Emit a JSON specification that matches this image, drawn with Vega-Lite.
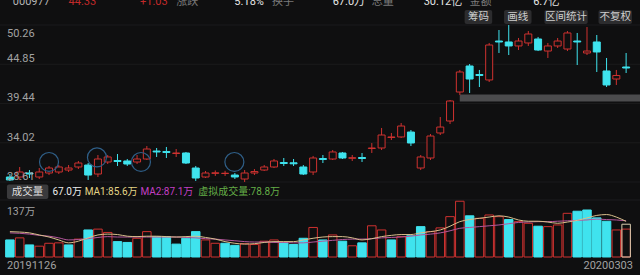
{
  "$schema": "https://vega.github.io/schema/vega-lite/v6.json",
  "width": 640,
  "height": 275,
  "padding": 0,
  "autosize": {"type": "none"},
  "background": "#0f0f10",
  "config": {"view": {"stroke": null}, "font": "Roboto, Noto Sans CJK SC"},
  "datasets": {
    "k": [
      {"i":0,"d":"20191126","o":29.30,"h":29.71,"l":28.75,"c":28.89,"v":41,"vd":"down","m1":61,"m2":58},
      {"i":1,"d":"20191127","o":29.30,"h":30.68,"l":28.89,"c":29.99,"v":46,"vd":"up","m1":60,"m2":57},
      {"i":2,"d":"20191128","o":29.85,"h":30.26,"l":29.16,"c":29.71,"v":29,"vd":"down","m1":58,"m2":55},
      {"i":3,"d":"20191129","o":29.30,"h":30.54,"l":29.02,"c":29.99,"v":26,"vd":"up","m1":53,"m2":52},
      {"i":4,"d":"20191202","o":29.85,"h":30.82,"l":29.57,"c":30.54,"v":33,"vd":"up","m1":48,"m2":50},
      {"i":5,"d":"20191203","o":29.99,"h":30.95,"l":29.71,"c":30.68,"v":34,"vd":"up","m1":41,"m2":46},
      {"i":6,"d":"20191204","o":30.26,"h":30.95,"l":29.99,"c":30.54,"v":29,"vd":"down","m1":34,"m2":41},
      {"i":7,"d":"20191205","o":30.68,"h":31.51,"l":30.40,"c":31.23,"v":43,"vd":"up","m1":38,"m2":42},
      {"i":8,"d":"20191206","o":30.95,"h":31.23,"l":28.89,"c":29.57,"v":65,"vd":"down","m1":46,"m2":44},
      {"i":9,"d":"20191209","o":29.71,"h":32.33,"l":29.30,"c":31.78,"v":67,"vd":"up","m1":53,"m2":47},
      {"i":10,"d":"20191210","o":31.37,"h":32.33,"l":31.09,"c":32.06,"v":59,"vd":"up","m1":55,"m2":49},
      {"i":11,"d":"20191211","o":31.57,"h":32.47,"l":30.82,"c":31.44,"v":37,"vd":"down","m1":54,"m2":48},
      {"i":12,"d":"20191212","o":31.51,"h":31.78,"l":30.82,"c":31.09,"v":35,"vd":"down","m1":50,"m2":48},
      {"i":13,"d":"20191213","o":31.37,"h":32.33,"l":31.09,"c":31.78,"v":45,"vd":"up","m1":49,"m2":48},
      {"i":14,"d":"20191216","o":31.78,"h":33.57,"l":31.64,"c":33.16,"v":61,"vd":"up","m1":50,"m2":48},
      {"i":15,"d":"20191217","o":32.88,"h":33.30,"l":32.06,"c":32.75,"v":49,"vd":"down","m1":50,"m2":48},
      {"i":16,"d":"20191218","o":32.82,"h":33.44,"l":31.92,"c":32.68,"v":49,"vd":"down","m1":49,"m2":48},
      {"i":17,"d":"20191219","o":32.54,"h":33.16,"l":32.06,"c":32.61,"v":31,"vd":"down","m1":48,"m2":48},
      {"i":18,"d":"20191220","o":32.61,"h":32.75,"l":31.09,"c":31.23,"v":45,"vd":"down","m1":49,"m2":47},
      {"i":19,"d":"20191223","o":30.54,"h":30.82,"l":28.75,"c":29.16,"v":61,"vd":"down","m1":50,"m2":46},
      {"i":20,"d":"20191224","o":29.30,"h":30.13,"l":29.16,"c":29.85,"v":41,"vd":"up","m1":47,"m2":44},
      {"i":21,"d":"20191225","o":29.80,"h":30.20,"l":29.45,"c":29.88,"v":33,"vd":"up","m1":43,"m2":43},
      {"i":22,"d":"20191226","o":29.78,"h":30.15,"l":29.45,"c":29.82,"v":33,"vd":"down","m1":37,"m2":41},
      {"i":23,"d":"20191227","o":29.57,"h":29.85,"l":29.02,"c":29.30,"v":28,"vd":"down","m1":33,"m2":39},
      {"i":24,"d":"20191230","o":29.02,"h":30.26,"l":28.61,"c":29.85,"v":32,"vd":"up","m1":31,"m2":37},
      {"i":25,"d":"20191231","o":29.85,"h":30.40,"l":29.57,"c":30.05,"v":30,"vd":"up","m1":32,"m2":36},
      {"i":26,"d":"20200102","o":30.26,"h":30.95,"l":30.13,"c":30.68,"v":38,"vd":"up","m1":35,"m2":36},
      {"i":27,"d":"20200103","o":30.68,"h":31.78,"l":30.54,"c":31.51,"v":41,"vd":"up","m1":37,"m2":35},
      {"i":28,"d":"20200106","o":31.30,"h":31.92,"l":30.82,"c":31.16,"v":34,"vd":"down","m1":37,"m2":35},
      {"i":29,"d":"20200107","o":31.26,"h":31.78,"l":30.82,"c":31.12,"v":30,"vd":"down","m1":37,"m2":34},
      {"i":30,"d":"20200108","o":30.68,"h":30.95,"l":29.57,"c":29.71,"v":45,"vd":"down","m1":41,"m2":34},
      {"i":31,"d":"20200109","o":29.99,"h":32.20,"l":29.57,"c":31.92,"v":71,"vd":"up","m1":45,"m2":36},
      {"i":32,"d":"20200110","o":31.85,"h":32.33,"l":31.23,"c":31.71,"v":41,"vd":"down","m1":48,"m2":38},
      {"i":33,"d":"20200113","o":31.78,"h":33.02,"l":31.64,"c":32.75,"v":53,"vd":"up","m1":49,"m2":40},
      {"i":34,"d":"20200114","o":32.61,"h":32.75,"l":31.78,"c":31.92,"v":38,"vd":"down","m1":49,"m2":42},
      {"i":35,"d":"20200115","o":31.88,"h":32.33,"l":31.51,"c":31.96,"v":27,"vd":"up","m1":46,"m2":43},
      {"i":36,"d":"20200116","o":31.99,"h":32.61,"l":31.37,"c":31.85,"v":34,"vd":"down","m1":41,"m2":43},
      {"i":37,"d":"20200117","o":33.23,"h":33.98,"l":32.61,"c":33.30,"v":75,"vd":"up","m1":44,"m2":44},
      {"i":38,"d":"20200120","o":33.30,"h":36.06,"l":33.02,"c":35.09,"v":65,"vd":"up","m1":49,"m2":46},
      {"i":39,"d":"20200121","o":34.75,"h":35.37,"l":34.40,"c":34.82,"v":41,"vd":"down","m1":52,"m2":47},
      {"i":40,"d":"20200122","o":34.82,"h":36.75,"l":34.68,"c":36.33,"v":49,"vd":"up","m1":54,"m2":48},
      {"i":41,"d":"20200123","o":35.50,"h":35.78,"l":33.57,"c":33.99,"v":51,"vd":"down","m1":54,"m2":50},
      {"i":42,"d":"20200203","o":30.54,"h":32.33,"l":30.26,"c":32.06,"v":73,"vd":"down","m1":58,"m2":53},
      {"i":43,"d":"20200204","o":31.92,"h":35.23,"l":31.64,"c":34.95,"v":61,"vd":"up","m1":61,"m2":55},
      {"i":44,"d":"20200205","o":35.37,"h":37.57,"l":35.09,"c":36.19,"v":70,"vd":"up","m1":65,"m2":58},
      {"i":45,"d":"20200206","o":37.02,"h":39.92,"l":36.61,"c":39.78,"v":97,"vd":"up","m1":74,"m2":63},
      {"i":46,"d":"20200207","o":41.02,"h":44.06,"l":40.61,"c":43.78,"v":134,"vd":"up","m1":85,"m2":69},
      {"i":47,"d":"20200210","o":44.61,"h":44.88,"l":40.88,"c":42.81,"v":99,"vd":"down","m1":90,"m2":71},
      {"i":48,"d":"20200211","o":43.43,"h":44.06,"l":41.71,"c":43.30,"v":93,"vd":"up","m1":93,"m2":73},
      {"i":49,"d":"20200212","o":42.68,"h":47.78,"l":42.40,"c":47.50,"v":101,"vd":"up","m1":96,"m2":75},
      {"i":50,"d":"20200213","o":48.05,"h":49.57,"l":46.40,"c":47.92,"v":97,"vd":"up","m1":99,"m2":77},
      {"i":51,"d":"20200214","o":47.92,"h":50.26,"l":46.12,"c":47.37,"v":90,"vd":"down","m1":96,"m2":80},
      {"i":52,"d":"20200217","o":47.37,"h":48.47,"l":46.81,"c":48.05,"v":85,"vd":"up","m1":89,"m2":83},
      {"i":53,"d":"20200218","o":47.78,"h":49.43,"l":47.37,"c":49.02,"v":81,"vd":"up","m1":86,"m2":84},
      {"i":54,"d":"20200219","o":48.33,"h":48.61,"l":46.67,"c":46.81,"v":74,"vd":"down","m1":86,"m2":85},
      {"i":55,"d":"20200220","o":46.67,"h":47.78,"l":45.71,"c":47.37,"v":73,"vd":"up","m1":84,"m2":85},
      {"i":56,"d":"20200221","o":47.37,"h":48.47,"l":47.09,"c":48.05,"v":77,"vd":"up","m1":81,"m2":86},
      {"i":57,"d":"20200224","o":46.95,"h":49.43,"l":46.67,"c":49.16,"v":105,"vd":"up","m1":84,"m2":87},
      {"i":58,"d":"20200225","o":48.05,"h":49.16,"l":44.74,"c":47.92,"v":110,"vd":"down","m1":88,"m2":88},
      {"i":59,"d":"20200226","o":46.40,"h":49.98,"l":46.12,"c":46.67,"v":113,"vd":"down","m1":94,"m2":89},
      {"i":60,"d":"20200227","o":47.92,"h":48.88,"l":43.78,"c":46.54,"v":94,"vd":"down","m1":100,"m2":91},
      {"i":61,"d":"20200228","o":43.92,"h":45.71,"l":41.71,"c":41.99,"v":86,"vd":"down","m1":102,"m2":90},
      {"i":62,"d":"20200302","o":42.81,"h":44.06,"l":41.99,"c":43.30,"v":65,"vd":"up","m1":96,"m2":89},
      {"i":63,"d":"20200303","o":44.47,"h":46.40,"l":43.64,"c":44.33,"v":67.0,"vd":"up","m1":85.6,"m2":87.1,"vv":78.8}
    ],
    "ticks": [{"p":28.61},{"p":34.02},{"p":39.44},{"p":44.85},{"p":50.26}],
    "marks": [{"i":4.0,"p":31.37},{"i":8.9,"p":32.0},{"i":13.4,"p":31.37},{"i":22.95,"p":31.37}],
    "band": [{"a":45.99,"b":64.5,"top":40.68,"bot":39.71}],
    "buttons": [
      {"t":"筹码","a":46.49,"b":49.31,"m":47.9},
      {"t":"画线","a":50.52,"b":53.33,"m":51.93},
      {"t":"区间统计","a":54.65,"b":59.07,"m":56.86},
      {"t":"不复权","a":60.18,"b":63.6,"m":61.89}
    ],
    "header": [
      {"t":"000977","i":0.3,"k":"code"},
      {"t":"44.33","i":6.0,"k":"up"},
      {"t":"+1.03","i":13.3,"k":"up"},
      {"t":"涨跌","i":17.0,"k":"lbl"},
      {"t":"5.18%","i":22.95,"k":"val"},
      {"t":"换手","i":26.8,"k":"lbl"},
      {"t":"67.0万","i":33.0,"k":"val"},
      {"t":"总量","i":37.0,"k":"lbl"},
      {"t":"30.12亿","i":42.3,"k":"val"},
      {"t":"金额","i":47.0,"k":"lbl"},
      {"t":"6.7亿","i":53.5,"k":"val"}
    ],
    "legend": [
      {"t":"67.0万","i":4.35,"k":"vol"},
      {"t":"MA1:85.6万","i":7.65,"k":"ma1"},
      {"t":"MA2:87.1万","i":13.35,"k":"ma2"},
      {"t":"虚拟成交量:78.8万","i":19.25,"k":"virt"}
    ]
  },
  "layer": [
    {
      "layer": [
        {
          "data": {"name": "ticks"},
          "mark": {"type": "rule", "color": "#1b1b1c", "strokeWidth": 1},
          "encoding": {
            "y": {"field": "p", "type": "quantitative", "scale": {"domain": [28.61, 50.26], "range": [182, 25]}, "axis": null}
          }
        },
        {
          "data": {"name": "band"},
          "mark": {"type": "rect", "color": "#4b4b4d"},
          "encoding": {
            "x": {"field": "a", "type": "quantitative", "scale": {"domain": [-0.5, 63.5], "range": [0, 636]}, "axis": null},
            "x2": {"field": "b"},
            "y": {"field": "top", "type": "quantitative", "scale": {"domain": [28.61, 50.26], "range": [182, 25]}, "axis": null},
            "y2": {"field": "bot"}
          }
        },
        {
          "data": {"name": "k"},
          "mark": {"type": "rule", "strokeWidth": 1},
          "encoding": {
            "x": {"field": "i", "type": "quantitative", "scale": {"domain": [-0.5, 63.5], "range": [0, 636]}, "axis": null},
            "y": {"field": "l", "type": "quantitative", "scale": {"domain": [28.61, 50.26], "range": [182, 25]}, "axis": null},
            "y2": {"field": "h"},
            "color": {"condition": {"test": "datum.c >= datum.o", "value": "#cf3230"}, "value": "#3fe3ee"}
          }
        },
        {
          "data": {"name": "k"},
          "mark": {"type": "bar", "width": 7, "strokeWidth": 1},
          "encoding": {
            "x": {"field": "i", "type": "quantitative", "scale": {"domain": [-0.5, 63.5], "range": [0, 636]}, "axis": null},
            "y": {"field": "o", "type": "quantitative", "scale": {"domain": [28.61, 50.26], "range": [182, 25]}, "axis": null, "stack": null},
            "y2": {"field": "c"},
            "fill": {"condition": {"test": "datum.c >= datum.o", "value": "#0f0f10"}, "value": "#3fe3ee"},
            "stroke": {"condition": {"test": "datum.c >= datum.o", "value": "#cf3230"}, "value": "#3fe3ee"}
          }
        },
        {
          "data": {"name": "marks"},
          "mark": {"type": "point", "shape": "circle", "filled": false, "size": 360, "stroke": "#2f5f88", "strokeWidth": 1.2, "opacity": 1},
          "encoding": {
            "x": {"field": "i", "type": "quantitative", "scale": {"domain": [-0.5, 63.5], "range": [0, 636]}, "axis": null},
            "y": {"field": "p", "type": "quantitative", "scale": {"domain": [28.61, 50.26], "range": [182, 25]}, "axis": null}
          }
        },
        {
          "data": {"name": "ticks"},
          "transform": [{"filter": "datum.p < 50"}],
          "mark": {"type": "text", "align": "left", "baseline": "alphabetic", "dy": -2, "fontSize": 11, "color": "#a2a2a2"},
          "encoding": {
            "x": {"datum": -0.3, "type": "quantitative", "scale": {"domain": [-0.5, 63.5], "range": [0, 636]}, "axis": null},
            "y": {"field": "p", "type": "quantitative", "scale": {"domain": [28.61, 50.26], "range": [182, 25]}, "axis": null},
            "text": {"field": "p", "type": "quantitative", "format": ".2f"}
          }
        },
        {
          "data": {"name": "ticks"},
          "transform": [{"filter": "datum.p > 50"}],
          "mark": {"type": "text", "align": "left", "baseline": "top", "dy": 3, "fontSize": 11, "color": "#a2a2a2"},
          "encoding": {
            "x": {"datum": -0.3, "type": "quantitative", "scale": {"domain": [-0.5, 63.5], "range": [0, 636]}, "axis": null},
            "y": {"field": "p", "type": "quantitative", "scale": {"domain": [28.61, 50.26], "range": [182, 25]}, "axis": null},
            "text": {"field": "p", "type": "quantitative", "format": ".2f"}
          }
        },
        {
          "data": {"name": "buttons"},
          "mark": {"type": "rect", "color": "#2c2c2e", "cornerRadius": 2},
          "encoding": {
            "x": {"field": "a", "type": "quantitative", "scale": {"domain": [-0.5, 63.5], "range": [0, 636]}, "axis": null},
            "x2": {"field": "b"},
            "y": {"datum": 52.33, "type": "quantitative", "scale": {"domain": [28.61, 50.26], "range": [182, 25]}, "axis": null},
            "y2": {"datum": 50.40}
          }
        },
        {
          "data": {"name": "buttons"},
          "mark": {"type": "text", "align": "center", "baseline": "middle", "fontSize": 10.5, "color": "#cfcfcf", "font": "Noto Sans CJK SC"},
          "encoding": {
            "x": {"field": "m", "type": "quantitative", "scale": {"domain": [-0.5, 63.5], "range": [0, 636]}, "axis": null},
            "y": {"datum": 51.36, "type": "quantitative", "scale": {"domain": [28.61, 50.26], "range": [182, 25]}, "axis": null},
            "text": {"field": "t"}
          }
        },
        {
          "data": {"name": "header"},
          "mark": {"type": "text", "align": "left", "baseline": "alphabetic", "fontSize": 11},
          "encoding": {
            "x": {"field": "i", "type": "quantitative", "scale": {"domain": [-0.5, 63.5], "range": [0, 636]}, "axis": null},
            "y": {"datum": 53.02, "type": "quantitative", "scale": {"domain": [28.61, 50.26], "range": [182, 25]}, "axis": null},
            "text": {"field": "t"},
            "color": {"field": "k", "type": "nominal", "scale": {"domain": ["code", "up", "val", "lbl"], "range": ["#b5b5b5", "#c22a2a", "#e6e6e6", "#7a7a7a"]}, "legend": null}
          }
        }
      ]
    },
    {
      "layer": [
        {
          "data": {"values": [{"v": 137}]},
          "mark": {"type": "rule", "color": "#1d1d1e", "strokeWidth": 1},
          "encoding": {
            "y": {"field": "v", "type": "quantitative", "scale": {"domain": [0, 137], "range": [257, 200]}, "axis": null}
          }
        },
        {
          "data": {"name": "k"},
          "mark": {"type": "bar", "width": 8.5, "strokeWidth": 1},
          "encoding": {
            "x": {"field": "i", "type": "quantitative", "scale": {"domain": [-0.5, 63.5], "range": [0, 636]}, "axis": null},
            "y": {"field": "v", "type": "quantitative", "scale": {"domain": [0, 137], "range": [257, 200]}, "axis": null, "stack": null},
            "fill": {"condition": {"test": "datum.vd == 'up'", "value": "#0f0f10"}, "value": "#3fe3ee"},
            "stroke": {"condition": {"test": "datum.vd == 'up'", "value": "#cf3230"}, "value": "#3fe3ee"}
          }
        },
        {
          "data": {"name": "k"},
          "transform": [{"filter": "isValid(datum.vv)"}],
          "mark": {"type": "bar", "width": 8.5, "fill": null, "fillOpacity": 0, "stroke": "#d9cdb0", "strokeWidth": 1},
          "encoding": {
            "x": {"field": "i", "type": "quantitative", "scale": {"domain": [-0.5, 63.5], "range": [0, 636]}, "axis": null},
            "y": {"field": "vv", "type": "quantitative", "scale": {"domain": [0, 137], "range": [257, 200]}, "axis": null, "stack": null}
          }
        },
        {
          "data": {"name": "k"},
          "mark": {"type": "line", "color": "#b4579c", "strokeWidth": 1, "interpolate": "monotone"},
          "encoding": {
            "x": {"field": "i", "type": "quantitative", "scale": {"domain": [-0.5, 63.5], "range": [0, 636]}, "axis": null},
            "y": {"field": "m2", "type": "quantitative", "scale": {"domain": [0, 137], "range": [257, 200]}, "axis": null}
          }
        },
        {
          "data": {"name": "k"},
          "mark": {"type": "line", "color": "#d9bf8c", "strokeWidth": 1, "interpolate": "monotone"},
          "encoding": {
            "x": {"field": "i", "type": "quantitative", "scale": {"domain": [-0.5, 63.5], "range": [0, 636]}, "axis": null},
            "y": {"field": "m1", "type": "quantitative", "scale": {"domain": [0, 137], "range": [257, 200]}, "axis": null}
          }
        },
        {
          "data": {"values": [{"t": "成交量"}]},
          "mark": {"type": "rect", "color": "#3a3a3c", "cornerRadius": 2},
          "encoding": {
            "x": {"datum": -0.3, "type": "quantitative", "scale": {"domain": [-0.5, 63.5], "range": [0, 636]}, "axis": null},
            "x2": {"datum": 3.93},
            "y": {"datum": 174.5, "type": "quantitative", "scale": {"domain": [0, 137], "range": [257, 200]}, "axis": null},
            "y2": {"datum": 139.4}
          }
        },
        {
          "data": {"values": [{"t": "成交量"}]},
          "mark": {"type": "text", "align": "center", "baseline": "middle", "fontSize": 10.5, "color": "#dedede", "font": "Noto Sans CJK SC"},
          "encoding": {
            "x": {"datum": 1.81, "type": "quantitative", "scale": {"domain": [-0.5, 63.5], "range": [0, 636]}, "axis": null},
            "y": {"datum": 157.4, "type": "quantitative", "scale": {"domain": [0, 137], "range": [257, 200]}, "axis": null},
            "text": {"field": "t"}
          }
        },
        {
          "data": {"name": "legend"},
          "mark": {"type": "text", "align": "left", "baseline": "middle", "fontSize": 10},
          "encoding": {
            "x": {"field": "i", "type": "quantitative", "scale": {"domain": [-0.5, 63.5], "range": [0, 636]}, "axis": null},
            "y": {"datum": 157.4, "type": "quantitative", "scale": {"domain": [0, 137], "range": [257, 200]}, "axis": null},
            "text": {"field": "t"},
            "color": {"field": "k", "type": "nominal", "scale": {"domain": ["vol", "ma1", "ma2", "virt"], "range": ["#ececec", "#e3d486", "#c23fc4", "#64ad47"]}, "legend": null}
          }
        },
        {
          "data": {"values": [{"t": "137万"}]},
          "mark": {"type": "text", "align": "left", "baseline": "middle", "fontSize": 10.5, "color": "#a2a2a2"},
          "encoding": {
            "x": {"datum": -0.3, "type": "quantitative", "scale": {"domain": [-0.5, 63.5], "range": [0, 636]}, "axis": null},
            "y": {"datum": 108.2, "type": "quantitative", "scale": {"domain": [0, 137], "range": [257, 200]}, "axis": null},
            "text": {"field": "t"}
          }
        },
        {
          "data": {"name": "k"},
          "transform": [{"filter": "datum.i == 0"}],
          "mark": {"type": "text", "align": "left", "baseline": "middle", "fontSize": 11, "color": "#a2a2a2"},
          "encoding": {
            "x": {"datum": -0.3, "type": "quantitative", "scale": {"domain": [-0.5, 63.5], "range": [0, 636]}, "axis": null},
            "y": {"datum": -21.6, "type": "quantitative", "scale": {"domain": [0, 137], "range": [257, 200]}, "axis": null},
            "text": {"field": "d"}
          }
        },
        {
          "data": {"name": "k"},
          "transform": [{"filter": "datum.i == 63"}],
          "mark": {"type": "text", "align": "right", "baseline": "middle", "fontSize": 11, "color": "#a2a2a2"},
          "encoding": {
            "x": {"datum": 63.7, "type": "quantitative", "scale": {"domain": [-0.5, 63.5], "range": [0, 636]}, "axis": null},
            "y": {"datum": -21.6, "type": "quantitative", "scale": {"domain": [0, 137], "range": [257, 200]}, "axis": null},
            "text": {"field": "d"}
          }
        }
      ]
    }
  ],
  "resolve": {"scale": {"y": "independent", "color": "independent"}}
}
